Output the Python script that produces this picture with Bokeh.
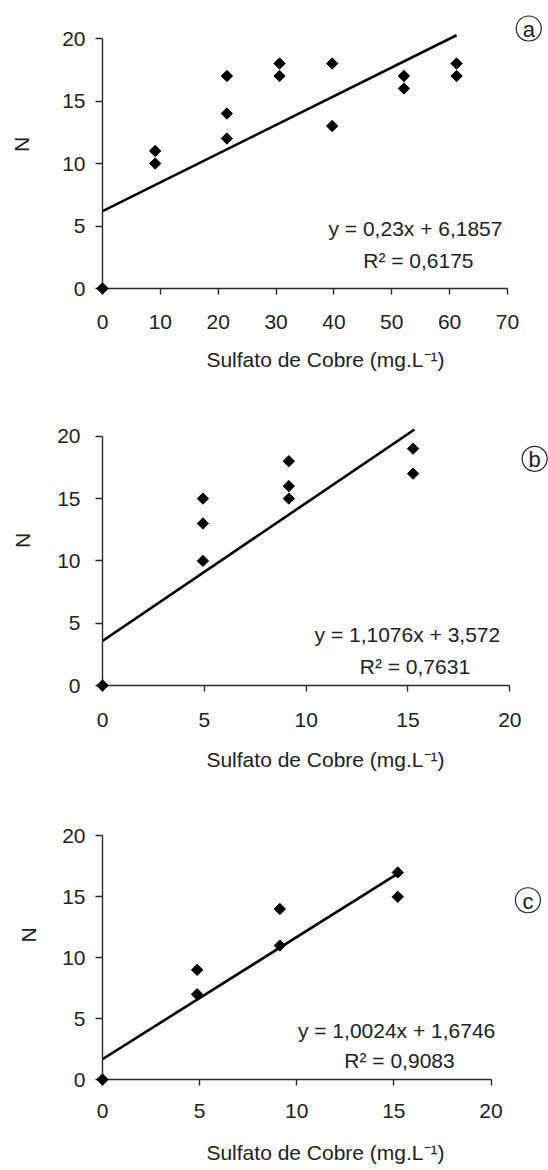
import math
from bokeh.plotting import figure
from bokeh.layouts import column
from bokeh.models import Range1d, FixedTicker, Label
from bokeh.embed import file_html
from bokeh.resources import INLINE

FONT = "Liberation Sans"
TXT = "#222222"
FS = "21px"

# ---------------- data ----------------
# panel a
a_x = [0, 9.1, 9.1, 21.5, 21.5, 21.5, 30.6, 30.6, 39.7, 39.7, 52.1, 52.1, 61.2, 61.2]
a_y = [0, 11, 10, 17, 14, 12, 18, 17, 18, 13, 17, 16, 18, 17]
a_slope, a_intercept = 0.23, 6.1857
a_eq = "y = 0,23x + 6,1857"
a_r2 = "R\u00b2 = 0,6175"
a_xticks = [0, 10, 20, 30, 40, 50, 60, 70]

# panel b
b_x = [0, 4.93, 4.93, 4.93, 9.15, 9.15, 9.15, 15.25, 15.25]
b_y = [0, 15, 13, 10, 18, 16, 15, 19, 17]
b_slope, b_intercept = 1.1076, 3.572
b_eq = "y = 1,1076x + 3,572"
b_r2 = "R\u00b2 = 0,7631"
b_xticks = [0, 5, 10, 15, 20]

# panel c
c_x = [0, 4.87, 4.87, 9.13, 9.13, 15.2, 15.2]
c_y = [0, 9, 7, 14, 11, 17, 15]
c_slope, c_intercept = 1.0024, 1.6746
c_eq = "y = 1,0024x + 1,6746"
c_r2 = "R\u00b2 = 0,9083"
c_xticks = [0, 5, 10, 15, 20]

y_ticks = [0, 5, 10, 15, 20]
x_title = "Sulfato de Cobre (mg.L\u207b\u00b9)"
y_title = "N"


def panel(xs, ys, slope, intercept, eq, r2, xticks, letter, line_end,
          eq_pos, r2_pos, letter_pos, height, left, bottom, x_end, y_end,
          ylab_standoff, ytick_standoff, xtick_standoff, xlab_standoff):
    p = figure(width=548, height=height, output_backend="svg", toolbar_location=None,
               x_range=Range1d(0, x_end), y_range=Range1d(0, y_end),
               min_border_left=left, min_border_right=0,
               min_border_top=0, min_border_bottom=bottom)
    p.outline_line_color = None
    p.grid.visible = False
    p.background_fill_color = "white"
    p.border_fill_color = "white"

    for ax in (p.xaxis[0], p.yaxis[0]):
        ax.axis_line_color = "#2a2a2a"
        ax.axis_line_width = 1.4
        ax.major_tick_line_color = "#2a2a2a"
        ax.major_tick_line_width = 1.4
        ax.major_tick_in = 0
        ax.minor_tick_in = 0
        ax.minor_tick_out = 0
        ax.major_label_text_font = FONT
        ax.major_label_text_font_size = FS
        ax.major_label_text_color = TXT
        ax.axis_label_text_font = FONT
        ax.axis_label_text_font_size = FS
        ax.axis_label_text_font_style = "normal"
        ax.axis_label_text_color = TXT
    p.xaxis.major_tick_out = 6
    p.yaxis.major_tick_out = 7

    p.xaxis.ticker = FixedTicker(ticks=xticks)
    p.yaxis.ticker = FixedTicker(ticks=y_ticks)
    p.xaxis.bounds = (xticks[0], xticks[-1])
    p.yaxis.bounds = (y_ticks[0], y_ticks[-1])
    p.xaxis.axis_label = x_title
    p.yaxis.axis_label = y_title
    p.xaxis.major_label_standoff = xtick_standoff
    p.xaxis.axis_label_standoff = xlab_standoff
    p.yaxis.major_label_standoff = ytick_standoff
    p.yaxis.axis_label_standoff = ylab_standoff

    lx = [0, line_end]
    ly = [intercept, intercept + slope * line_end]
    p.line(lx, ly, line_color="black", line_width=2.6)

    r = p.scatter(xs, ys, marker="square", angle=math.pi / 4, size=8,
                  fill_color="black", line_color="black", line_width=1)
    r.level = "overlay"

    for (txt, pos) in ((eq, eq_pos), (r2, r2_pos)):
        p.add_layout(Label(x=pos[0], y=pos[1], text=txt, text_align="center",
                           text_baseline="middle", text_font=FONT,
                           text_font_size=FS, text_color=TXT))
    # circled panel letter
    p.scatter([letter_pos[0]], [letter_pos[1]], marker="circle", size=25,
              fill_color=None, line_color="#222222", line_width=1.2)
    p.add_layout(Label(x=letter_pos[0], y=letter_pos[1], text=letter,
                       text_align="center", text_baseline="middle",
                       text_font=FONT, text_font_size="22px",
                       text_color=TXT, y_offset=-1))
    return p


pa = panel(a_x, a_y, a_slope, a_intercept, a_eq, a_r2, a_xticks, "a", 61.2,
           (54.1, 4.8), (54.6, 2.24), (73.68, 20.8),
           395, 102, 107, 77.09, 23.04, 26, 10, 20, 16)
pb = panel(b_x, b_y, b_slope, b_intercept, b_eq, b_r2, b_xticks, "b", 15.32,
           (14.97, 4.09), (15.34, 1.52), (21.22, 18.19),
           395, 94, 105, 21.9, 23.27, 20, 15, 21, 18)
pc = panel(c_x, c_y, c_slope, c_intercept, c_eq, c_r2, c_xticks, "c", 15.2,
           (15.14, 3.99), (15.29, 1.58), (21.9, 14.72),
           380, 96, 91, 22.96, 23.73, 19, 10, 18, 20)

layout = column(pa, pb, pc, spacing=0)
open("out.html", "w").write(file_html(layout, INLINE))
